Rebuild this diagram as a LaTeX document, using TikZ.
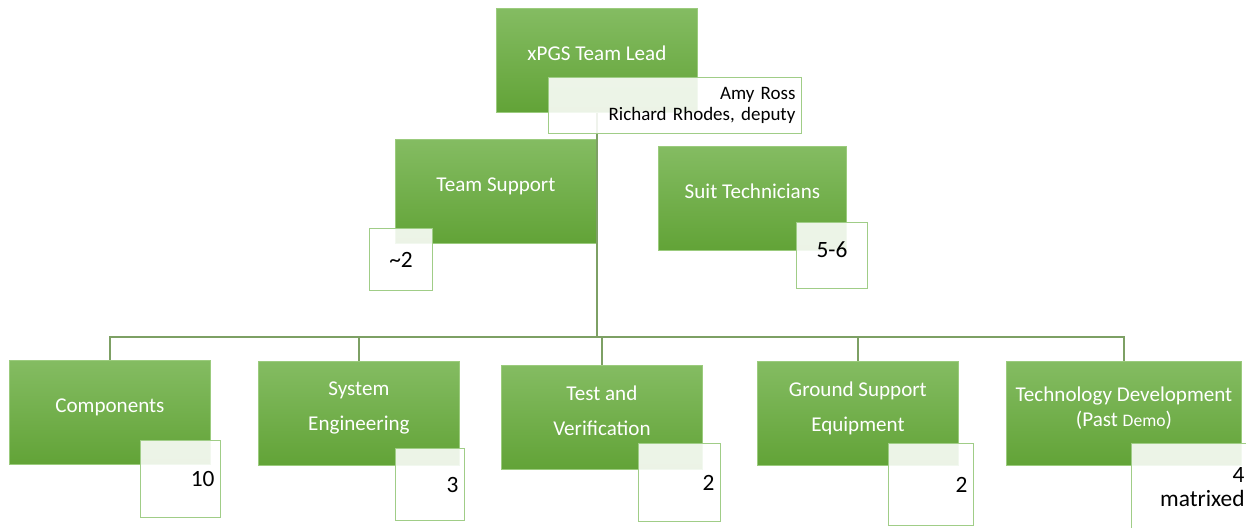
\documentclass[tikz,border=0pt]{standalone}
\usepackage{fontspec}
\setmainfont{Carlito}
\usetikzlibrary{positioning, calc}
\definecolor{unittop}{RGB}{132,188,98}
\definecolor{unitbottom}{RGB}{98,163,55}
\definecolor{unitedge}{RGB}{155,203,125}
\definecolor{tagedge}{RGB}{160,205,135}
\definecolor{linkgreen}{RGB}{125,160,100}

\begin{document}
\begin{tikzpicture}[x=0.02cm, y=-0.02cm,
    unit/.style={draw=unitedge, line width=0.5pt, top color=unittop, bottom color=unitbottom,
      text=white, anchor=north west, minimum width=4.02cm, minimum height=2.08cm,
      inner sep=0pt, align=center, text depth=8pt, font=\fontsize{12}{19.8}\selectfont},
    tag/.style={draw=tagedge, line width=0.6pt, fill=white, fill opacity=0.88, text opacity=1,
      anchor=north west, inner xsep=0.12cm, inner ysep=0pt, align=right,
      font=\fontsize{13.3}{13.6}\selectfont},
    link/.style={draw=linkgreen, line width=0.8pt}]
  \useasboundingbox (0,0) rectangle (1246,527);

  % Lead and staff
  \node[unit] (lead) at (496,8) {xPGS Team Lead};
  \node[unit] (support) at (395,139) {Team Support};
  \node[unit, minimum width=3.76cm] (suit) at (658,146) {Suit Technicians};

  % Groups
  \node[unit] (comp) at (9,360) {Components};
  \node[unit] (syseng) at (258,361) {System\\Engineering};
  \node[unit] (test) at (501,365) {Test and\\Verification};
  \node[unit] (gse) at (757,361) {Ground Support\\Equipment};
  \node[unit, minimum width=4.7cm, font=\fontsize{12}{14.2}\selectfont] (tech) at (1006,361)
    {Technology Development\\(Past {\fontsize{10}{12}\selectfont Demo})};

  % Connectors
  \path (lead.south) ++(0,224) coordinate (bus);
  \draw[link] (lead.south) -- (bus);
  \foreach \grp in {comp, syseng, test, gse, tech}
    \draw[link] (bus) -| (\grp.north);

  % Head counts
  \node[tag, text width=4.82cm, minimum height=1.12cm, font=\fontsize{10.8}{11.9}\selectfont] (leadtag) at (548,77)
    {Amy Ross\\Richard Rhodes, deputy};
  \node[tag, text width=1.02cm, minimum height=1.24cm, align=center] (supporttag) at (369,228) {\textasciitilde2};
  \node[tag, text width=1.18cm, minimum height=1.32cm, align=center, text depth=7pt] (suittag) at (796,222) {5-6};
  \node[tag, text width=1.36cm, minimum height=1.54cm] (comptag) at (140,440) {10};
  \node[tag, text width=1.14cm, minimum height=1.44cm] (systag) at (395,448) {3};
  \node[tag, text width=1.40cm, minimum height=1.56cm] (testtag) at (638,443) {2};
  \node[tag, text width=1.46cm, minimum height=1.64cm] (gsetag) at (888,443) {2};
  \node[tag, text width=2.14cm, minimum height=1.74cm] (techtag) at (1131,443) {4\\matrixed};
\end{tikzpicture}
\end{document}
